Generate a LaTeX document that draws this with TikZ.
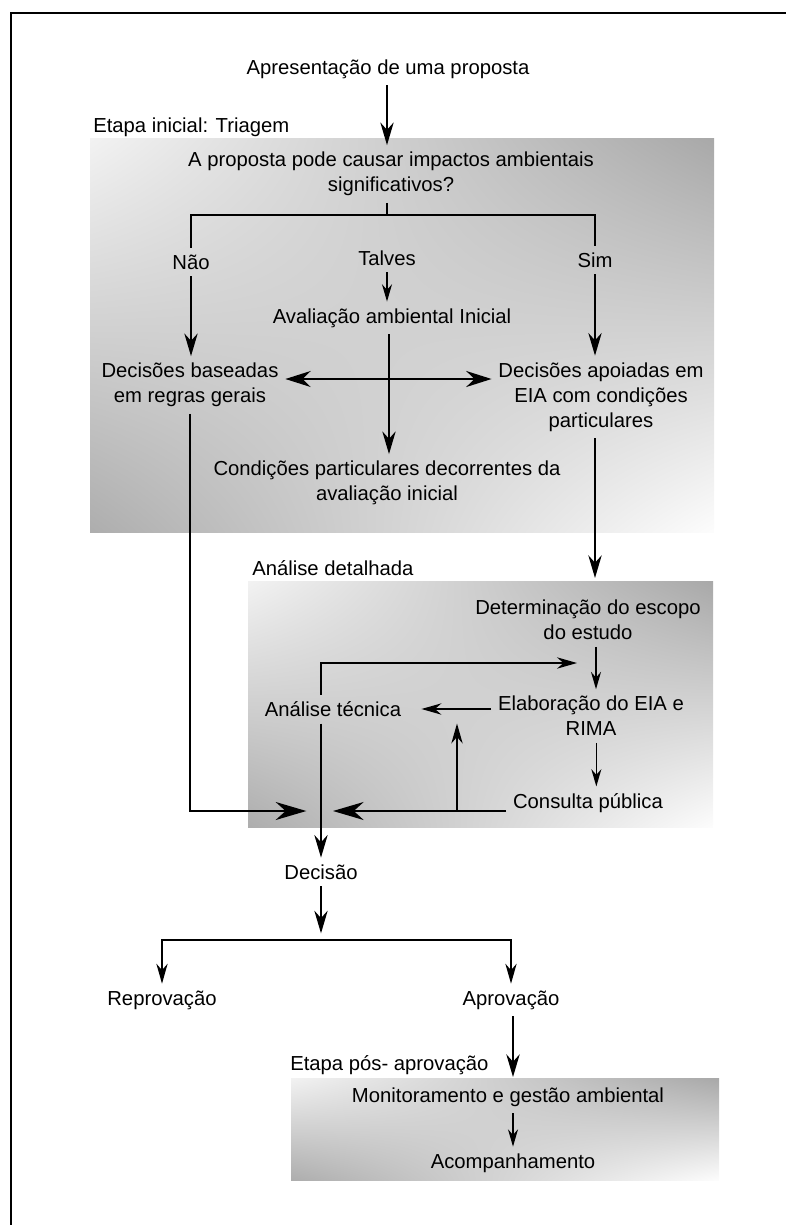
\documentclass[tikz,border=0pt]{standalone}
\usepackage{fontspec}
\setmainfont{Liberation Sans}
\usepackage{tikz}
\usetikzlibrary{arrows.meta,calc}

% gray box: light top-left and bottom-right corners, dark top-right and bottom-left
\pgfdeclarefunctionalshading{cantos}{\pgfpoint{0bp}{0bp}}{\pgfpoint{100bp}{100bp}}{}{
	25 sub 50 div exch 25 sub 50 div exch
	2 copy mul -0.60 mul exch 0.27 mul add exch 0.31 mul add 0.68 add
	dup 1 gt {pop 1} if dup 0 lt {pop 0} if dup dup
}

\tikzset{
	rotulo/.style={font=\fontsize{15.2}{18.75}\selectfont, align=center, inner sep=5pt},
	etapa/.style={rotulo, anchor=west, inner sep=0pt},
	caixa/.style={shading=cantos},
	linha/.style={line width=1.4pt},
	seta/.style={line width=1.4pt, -{Stealth[length=17pt,width=10pt]}},
	setagrande/.style={line width=1.4pt, -{Stealth[length=23pt,width=13.5pt]}},
	setamedia/.style={line width=1.1pt, -{Stealth[length=15pt,width=8.5pt]}},
	setafina/.style={line width=1.1pt, -{Stealth[length=13pt,width=7.5pt]}},
}

\begin{document}
\begin{tikzpicture}[x=0.75pt, y=-0.75pt]
	\useasboundingbox (0,0) rectangle (786,1225);

	% frame
	\draw[line width=2pt] (11,1225) -- (11,13) -- (786,13);

	% shaded stages
	\path[caixa] (90,138) rectangle (714,532);
	\path[caixa] (248,581) rectangle (713,827);
	\path[caixa] (291,1078) rectangle (719,1180);

	% stage names
	\node[etapa] (triagem) at (93,127) {Etapa inicial: Triagem};
	\node[etapa] (detalhada) at (252,568) {Análise detalhada};
	\node[etapa] (posaprov) at (290,1065) {Etapa pós- aprovação};

	% screening
	\node[rotulo] (apres) at (388,69) {Apresentação de uma proposta};
	\node[rotulo] (pergunta) at (391,174) {A proposta pode causar impactos ambientais\\significativos?};
	\node[rotulo] (nao) at (191,262) {Não};
	\node[rotulo] (talves) at (387,258) {Talves};
	\node[rotulo] (sim) at (595,260) {Sim};
	\node[rotulo] (avalia) at (392,318) {Avaliação ambiental Inicial};
	\node[rotulo] (regras) at (190,385) {Decisões baseadas\\em regras gerais};
	\node[rotulo] (apoiadas) at (601,397) {Decisões apoiadas em\\EIA com condições\\particulares};
	\node[rotulo] (condicoes) at (387,483) {Condições particulares decorrentes da\\avaliação inicial};

	\coordinate (split) at (387,215);
	\coordinate (cruz) at (389,379);

	\draw[seta] (apres.south -| split) -- (pergunta.north -| split);
	\draw[linha] (pergunta.south -| split) -- (split);
	\draw[linha] (nao.north) -- (nao.north |- split) -- (sim.north |- split) -- (sim.north);
	\draw[seta] (nao.south) -- (nao.south |- regras.north);
	\draw[setafina] (talves.south) -- (talves.south |- avalia.north);
	\draw[seta] (sim.south) -- (sim.south |- apoiadas.north);
	\draw[line width=1.4pt, {Stealth[length=19pt,width=12pt]}-{Stealth[length=19pt,width=12pt]}] (regras.east |- cruz) -- (apoiadas.west |- cruz);
	\draw[seta] (avalia.south -| cruz) -- (condicoes.north -| cruz);

	% detailed analysis
	\node[rotulo] (det) at (588,620) {Determinação do escopo\\do estudo};
	\node[rotulo] (elab) at (591,716) {Elaboração do EIA e\\RIMA};
	\node[rotulo] (consulta) at (588,803) {Consulta pública};
	\node[rotulo] (tecnica) at (333,709) {Análise técnica};
	\node[rotulo] (decisao) at (321,872) {Decisão};

	\coordinate (entradaB) at (595,578);
	\coordinate (juncao) at (321,811);
	\coordinate (retorno) at (577,663);
	\coordinate (ramo) at (457,811);

	\draw[seta] (apoiadas.south -| entradaB) -- (entradaB);
	\draw[setafina] ([xshift=6pt]det.south) -- ([xshift=6pt]det.south |- elab.north);
	\draw[setafina] ([xshift=4pt]elab.south) -- ([xshift=4pt]elab.south |- consulta.north);
	\draw[setamedia, shorten >=10pt] (elab.west |- tecnica.east) -- (tecnica.east);
	\draw[setamedia] (tecnica.north -| juncao) |- (retorno);
	\draw[setagrande, shorten >=11pt] (regras.south) |- (juncao);
	\draw[setagrande, shorten >=9pt] (juncao -| consulta.west) -- (juncao);
	\draw[setamedia] (ramo) -- (ramo |- tecnica.south);
	\draw[seta] (tecnica.south -| juncao) -- (decisao.north);

	% decision
	\node[rotulo] (reprova) at (162,1000) {Reprovação};
	\node[rotulo] (aprova) at (511,1000) {Aprovação};
	\coordinate (bifurca) at (321,940);
	\coordinate (entradaC) at (513,1077);

	\draw[seta, shorten >=5pt] (decisao.south) -- (bifurca);
	\draw[setamedia] (bifurca) -| (reprova.north);
	\draw[setamedia] (bifurca) -| (aprova.north);
	\draw[seta] (entradaC |- aprova.south) -- (entradaC);

	% post-approval
	\node[rotulo] (monitor) at (508,1097) {Monitoramento e gestão ambiental};
	\node[rotulo] (acomp) at (513,1163) {Acompanhamento};
	\draw[setafina] (monitor.south -| acomp) -- (acomp.north);
\end{tikzpicture}
\end{document}
